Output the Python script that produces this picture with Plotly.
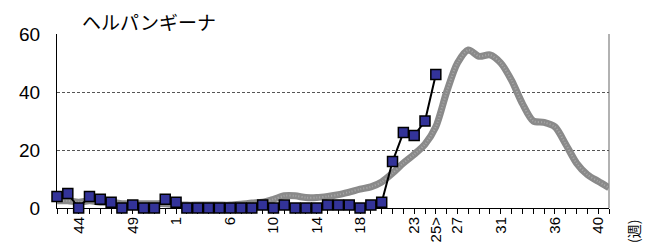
import plotly.graph_objects as go

# Weeks shown on the category axis (previous-year weeks 42-52, then 1-41)
weeks = [str(w) for w in list(range(42, 53)) + list(range(1, 42))]
week_labels = {"44": "44", "49": "49", "1": "1", "6": "6", "10": "10", "14": "14",
               "18": "18", "23": "23", "25": "25>", "27": "27", "31": "31",
               "36": "36", "40": "40"}
tick_text = [week_labels.get(w, "") for w in weeks]

# Current season reports per week (up to week 25)
current = [4, 5, 0, 4, 3, 2, 0, 1, 0, 0, 3, 2, 0, 0, 0, 0, 0, 0, 0, 1,
           0, 1, 0, 0, 0, 1, 1, 1, 0, 1, 2, 16, 26, 25, 30, 46]

# Average of past seasons (gray band)
average = [2.5, 2.5, 2, 2.5, 2, 2, 1.5, 1.5, 1.5, 1.5, 1.5, 1.2, 1, 1, 1, 1,
           1, 1.3, 1.7, 2, 3, 4.2, 4.2, 3.6, 3.6, 4, 4.6, 5.5, 6.5, 7.3, 9,
           12, 15.5, 18.5, 22, 28, 40, 50, 54.5, 52.3, 52.8, 50, 44, 36,
           30, 29.5, 28, 22, 15.5, 11.5, 9.2, 7]

title_text = "ヘルパンギーナ"
unit_text = "(週)"

fig = go.Figure()
fig.add_trace(go.Scatter(
    x=weeks, y=average, mode="lines",
    line=dict(color="#8a8a8a", width=7, shape="spline", smoothing=0.8),
    hoverinfo="skip", cliponaxis=False,
))
fig.add_trace(go.Scatter(
    x=weeks, y=average, mode="lines",
    line=dict(color="#a8a8a8", width=2, shape="spline", smoothing=0.8, dash="1px,2px"),
    hoverinfo="skip", cliponaxis=False,
))
fig.add_trace(go.Scatter(
    x=weeks[:len(current)], y=current, mode="lines+markers",
    line=dict(color="#000000", width=2),
    marker=dict(symbol="square", size=10, color="#333399",
                line=dict(color="#000000", width=1.5)),
    cliponaxis=False,
))

fig.update_layout(
    width=657, height=246, autosize=False,
    margin=dict(l=57, r=48, t=34, b=38, pad=0, autoexpand=False),
    paper_bgcolor="white", plot_bgcolor="white",
    showlegend=False,
    font=dict(family="Liberation Sans, Arial, sans-serif", color="#000000"),
)
fig.update_xaxes(
    type="category", range=[0, len(weeks) - 1], automargin=False,
    tickmode="array", tickvals=weeks, ticktext=tick_text,
    tickangle=-90, tickfont=dict(size=15), ticklabelstandoff=-3,
    showline=True, linecolor="#000000", linewidth=1,
    ticks="outside", ticklen=5, tickcolor="#000000", tickwidth=1,
    showgrid=False, zeroline=False, layer="below traces",
)
fig.update_yaxes(
    range=[0, 60], tickvals=[0, 20, 40, 60], tickfont=dict(size=19),
    automargin=False,
    showline=True, linecolor="#000000", linewidth=1,
    showgrid=True, gridcolor="#555555", gridwidth=1, griddash="3px,2px",
    zeroline=False, ticks="", ticklabelstandoff=12, layer="below traces",
)
# right border of plot area
fig.add_shape(type="line", xref="paper", yref="paper", x0=1, x1=1, y0=0, y1=1,
              line=dict(color="#999999", width=1.5), layer="below")
fig.add_annotation(
    text=title_text, xref="paper", yref="paper",
    x=(80 - 57) / 552, y=(208 - 21) / 174, xanchor="left", yanchor="middle",
    showarrow=False, font=dict(family="Noto Sans CJK JP", size=19),
)
fig.add_annotation(
    text=unit_text, xref="paper", yref="paper", textangle=-90,
    x=(633 - 57) / 552, y=(208 - 232) / 174, xanchor="center", yanchor="middle",
    showarrow=False, font=dict(family="Noto Sans CJK JP", size=14),
)

fig.write_html("out.html", config={"displayModeBar": False},
               post_script="document.body.style.margin='0px';")
